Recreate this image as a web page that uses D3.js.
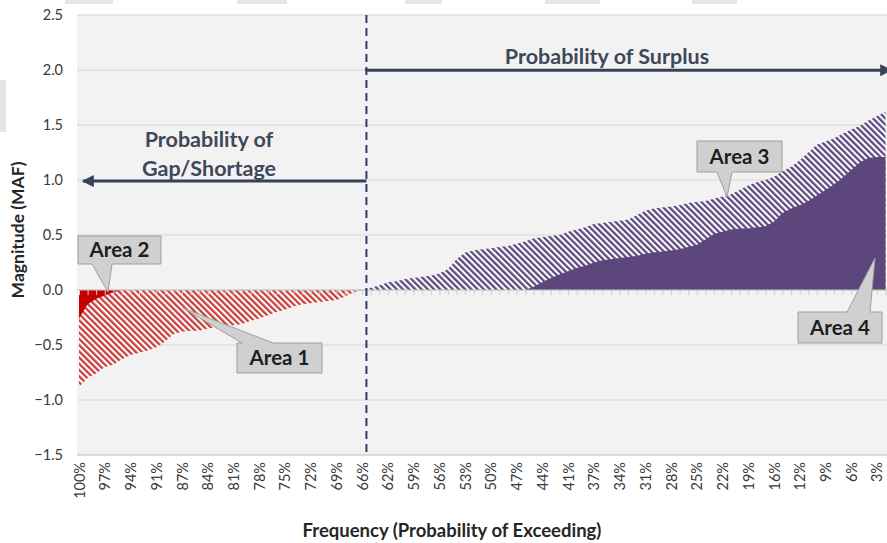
<!DOCTYPE html>
<html><head><meta charset="utf-8">
<script src="https://cdn.jsdelivr.net/npm/d3@7"></script>
<style>
html,body{margin:0;padding:0;background:#fff;}
svg{display:block;font-family:Lato,"Open Sans",sans-serif;}
</style></head>
<body><svg id="c" width="887" height="543"></svg>
<script>
// ---- data ----
const tickLabels = ["100%","97%","94%","91%","87%","84%","81%","78%","75%","72%","69%","66%","62%","59%","56%","53%","50%","47%","44%","41%","37%","34%","31%","28%","25%","22%","19%","16%","12%","9%","6%","3%"];
const nCategories = 95;          // category slots along the frequency axis
const yTicks = [2.5,2.0,1.5,1.0,0.5,0.0,-0.5,-1.0,-1.5];

// Area 1: gap/shortage (hatched red), starts at category 0
const area1Start = 0;
const area1 = [-0.88,-0.80,-0.76,-0.70,-0.68,-0.63,-0.59,-0.57,-0.55,-0.52,-0.47,-0.40,-0.38,-0.37,-0.37,-0.35,-0.34,-0.33,-0.32,-0.31,-0.28,-0.26,-0.23,-0.20,-0.18,-0.15,-0.13,-0.12,-0.11,-0.10,-0.09,-0.06,-0.02,0.0];
// Area 2: solid red, starts at category 0
const area2Start = 0;
const area2 = [-0.26,-0.13,-0.08,-0.05,-0.02,0.0];
// Area 3: surplus (hatched purple), starts at category 33
const area3Start = 33;
const area3 = [0.0,0.02,0.04,0.07,0.08,0.10,0.11,0.12,0.13,0.15,0.19,0.28,0.34,0.36,0.37,0.38,0.39,0.40,0.42,0.44,0.47,0.48,0.49,0.50,0.53,0.55,0.57,0.60,0.61,0.62,0.63,0.64,0.68,0.72,0.74,0.75,0.76,0.77,0.79,0.80,0.81,0.83,0.85,0.87,0.91,0.95,0.98,1.00,1.03,1.08,1.12,1.18,1.25,1.32,1.35,1.38,1.42,1.46,1.49,1.54,1.58,1.62];
// Area 4: solid purple, starts at category 52
const area4Start = 52;
const area4 = [0.0,0.03,0.07,0.11,0.14,0.17,0.20,0.22,0.25,0.27,0.28,0.29,0.30,0.31,0.33,0.34,0.35,0.36,0.37,0.39,0.41,0.46,0.51,0.53,0.55,0.56,0.56,0.57,0.58,0.62,0.70,0.74,0.77,0.81,0.86,0.91,0.96,1.02,1.09,1.16,1.20,1.21,1.21];

const calloutLabels = ["Area 1","Area 2","Area 3","Area 4"];
const splitCategory = 33.5;   // position of the dashed divider

// ---- layout ----
const svg = d3.select("#c");
const plot = {left:77, right:887, top:15, bottom:455};
const x = d3.scaleLinear().domain([0, nCategories-1]).range([79, 885.5]);
const y = d3.scaleLinear().domain([-1.5, 2.5]).range([plot.bottom, plot.top]);

const defs = svg.append("defs");
function hatch(id, color){
  const p = defs.append("pattern").attr("id",id).attr("patternUnits","userSpaceOnUse")
    .attr("width",4.4).attr("height",4.4).attr("patternTransform","rotate(-45)");
  p.append("rect").attr("width",4.4).attr("height",4.4).attr("fill","#fff");
  p.append("rect").attr("width",2.3).attr("height",4.4).attr("fill",color);
}
hatch("hRed","#c8403e");
hatch("hPur","#5e4a7f");
defs.append("clipPath").attr("id","clip").append("rect")
  .attr("x",plot.left).attr("y",plot.top).attr("width",plot.right-plot.left).attr("height",plot.bottom-plot.top);

// faint cut-off page elements
const ghost = [[65,0,48,4],[237,0,50,4],[405,0,37,4],[545,0,55,4],[692,0,45,4],[0,80,6,52]];
svg.append("g").selectAll("rect").data(ghost).join("rect")
  .attr("x",d=>d[0]).attr("y",d=>d[1]).attr("width",d=>d[2]).attr("height",d=>d[3]).attr("fill","#e6e6e6");

// plot background
svg.append("rect").attr("x",plot.left).attr("y",plot.top)
  .attr("width",plot.right-plot.left).attr("height",plot.bottom-plot.top).attr("fill","#f2f2f2");

// gridlines
svg.append("g").selectAll("line").data(yTicks).join("line")
  .attr("x1",plot.left).attr("x2",plot.right).attr("y1",d=>y(d)).attr("y2",d=>y(d))
  .attr("stroke",d=>d===-1.5?"#bcbcbc":"#d6d6d6").attr("stroke-width",1.2);

// y axis labels
const yAxis = d3.axisLeft(y).tickValues(yTicks).tickFormat(d3.format(".1f")).tickSize(0).tickPadding(0);
const gy = svg.append("g").attr("transform",`translate(63,0)`).call(yAxis);
gy.select(".domain").remove();
gy.selectAll("text").attr("font-size",14.5).attr("fill","#3a3a3a").attr("font-family","Lato, sans-serif");

// areas
const g = svg.append("g").attr("clip-path","url(#clip)");
function drawArea(vals, start, fill){
  const pts = vals.map((v,i)=>({i:start+i, v}));
  const a = d3.area().x(d=>x(d.i)).y0(y(0)).y1(d=>y(d.v));
  g.append("path").datum(pts).attr("d",a).attr("fill",fill);
}
drawArea(area1, area1Start, "url(#hRed)");
drawArea(area2, area2Start, "#c40000");
drawArea(area3, area3Start, "url(#hPur)");
drawArea(area4, area4Start, "#5d467c");

// zero axis with minor ticks
const catTicks = d3.range(0, nCategories);
const zeroAxis = d3.axisBottom(x).tickValues(catTicks).tickSize(5).tickFormat("");
const gz = svg.append("g").attr("transform",`translate(0,${y(0)})`).call(zeroAxis);
gz.select(".domain").attr("d",`M${plot.left},0H${plot.right}`).attr("stroke","#c4c4c4").attr("stroke-width",1.2);
gz.selectAll(".tick line").attr("stroke","#cfcfcf");

// category labels
const labelIdx = tickLabels.map((_,k)=>k*3);
const xAxis = d3.axisBottom(x).tickValues(labelIdx).tickFormat((d,k)=>tickLabels[k]).tickSize(0);
const gx = svg.append("g").attr("transform",`translate(0,${plot.bottom})`).call(xAxis);
gx.select(".domain").remove();
gx.selectAll("text").attr("transform","rotate(-90)").attr("text-anchor","end")
  .attr("x",-7).attr("y",0).attr("dy","0.35em")
  .attr("font-size",14.5).attr("fill","#3a3a3a").attr("font-family","Lato, sans-serif");

// axis titles
svg.append("text").attr("x",452).attr("y",537).attr("text-anchor","middle")
  .attr("font-size",18.5).attr("font-weight","bold").attr("fill","#262626").text("Frequency (Probability of Exceeding)");
svg.append("text").attr("transform","translate(24,230) rotate(-90)").attr("text-anchor","middle")
  .attr("font-size",17.5).attr("font-weight","bold").attr("fill","#262626").text("Magnitude (MAF)");

// dashed divider
const xs = x(splitCategory);
svg.append("line").attr("x1",xs).attr("x2",xs).attr("y1",plot.top).attr("y2",plot.bottom)
  .attr("stroke","#2e3d63").attr("stroke-width",2).attr("stroke-dasharray","8,5");

// direction arrows
const arrowCol = "#37425a";
defs.append("marker").attr("id","ah").attr("viewBox","0 0 10 10").attr("refX",9).attr("refY",5)
  .attr("markerWidth",4).attr("markerHeight",4).attr("orient","auto-start-reverse").attr("markerUnits","strokeWidth")
  .append("path").attr("d","M0,0L10,5L0,10Z").attr("fill",arrowCol);
svg.append("path").attr("d",`M${xs},${y(1.99)}V${y(1.98)-2}H${plot.right+4}`).attr("fill","none")
  .attr("stroke",arrowCol).attr("stroke-width",3).attr("marker-end","url(#ah)");
svg.append("path").attr("d",`M${xs},${y(0.99)}H${plot.left+6}`).attr("fill","none")
  .attr("stroke",arrowCol).attr("stroke-width",3).attr("marker-end","url(#ah)");

const annCol = "#3e4858";
svg.append("text").attr("x",607).attr("y",64).attr("text-anchor","middle").attr("font-size",21.5)
  .attr("font-weight","bold").attr("fill",annCol).text("Probability of Surplus");
const t2 = svg.append("text").attr("text-anchor","middle").attr("font-size",21.5)
  .attr("font-weight","bold").attr("fill",annCol);
t2.append("tspan").attr("x",209).attr("y",147).text("Probability of");
t2.append("tspan").attr("x",209).attr("y",176).text("Gap/Shortage");

// callouts
const callouts = [
  {label:calloutLabels[1], d:"M78,236H161V264H112L108,292L92,264H78Z", tx:119.5, ty:250},
  {label:calloutLabels[0], d:"M237,343H242L183,308L273,343H322V373H237Z", tx:279.5, ty:358},
  {label:calloutLabels[2], d:"M697,141H782V172H732L727,197L717,172H697Z", tx:739.5, ty:156.5},
  {label:calloutLabels[3], d:"M798,312H847L875,258L870,312H882V343H798Z", tx:840, ty:327.5}
];
const cg = svg.append("g").selectAll("g").data(callouts).join("g");
cg.append("path").attr("d",d=>d.d).attr("fill","#d0d0d0").attr("stroke","#9e9e9e").attr("stroke-width",1);
cg.append("text").attr("x",d=>d.tx).attr("y",d=>d.ty).attr("dy","0.36em").attr("text-anchor","middle")
  .attr("font-size",20.5).attr("font-weight","bold").attr("fill","#1e1e1e").text(d=>d.label);
</script></body></html>
